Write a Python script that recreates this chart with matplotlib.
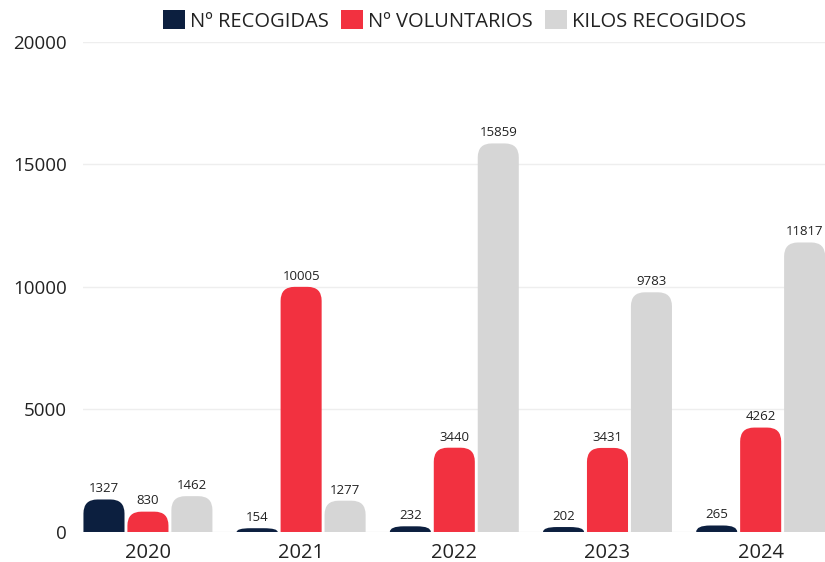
import matplotlib
matplotlib.use('Agg')
import matplotlib.pyplot as plt
from matplotlib.path import Path
from matplotlib.patches import PathPatch, Patch

plt.rcParams['font.family'] = ['Open Sans', 'DejaVu Sans']

years = ['2020', '2021', '2022', '2023', '2024']
recogidas = [1327, 154, 232, 202, 265]
voluntarios = [830, 10005, 3440, 3431, 4262]
kilos = [1462, 1277, 15859, 9783, 11817]

series = [('Nº RECOGIDAS', recogidas, '#0c1f3f'),
          ('Nº VOLUNTARIOS', voluntarios, '#f23140'),
          ('KILOS RECOGIDOS', kilos, '#d6d6d6')]

fig = plt.figure(figsize=(8.25, 5.62), dpi=100)
ax = fig.add_axes([0.1006, 0.0534, 0.8994, 0.8719])
ax.set_xlim(-0.424, 4.42)
ax.set_ylim(0, 20000)

step = 0.287
width = 0.268


def rounded_bar(x0, w, h, r_px=14):
    # radius in data units for both axes (axes are not equal aspect)
    px_x = ax.transData.transform((1, 0))[0] - ax.transData.transform((0, 0))[0]
    px_y = ax.transData.transform((0, 1))[1] - ax.transData.transform((0, 0))[1]
    rx = min(r_px / px_x, w / 2)
    ry = min(r_px / px_y, h)
    x1 = x0 + w
    verts = [(x0, 0), (x0, h - ry), (x0, h), (x0 + rx, h),
             (x1 - rx, h), (x1, h), (x1, h - ry), (x1, 0), (x0, 0)]
    codes = [Path.MOVETO, Path.LINETO, Path.CURVE3, Path.CURVE3,
             Path.LINETO, Path.CURVE3, Path.CURVE3, Path.LINETO, Path.CLOSEPOLY]
    return Path(verts, codes)


for j, (name, vals, col) in enumerate(series):
    for i, v in enumerate(vals):
        xc = i + (j - 1) * step
        p = PathPatch(rounded_bar(xc - width / 2, width, v), facecolor=col,
                      edgecolor='none', zorder=3)
        ax.add_patch(p)
        ax.annotate(str(v), (xc, v), xytext=(0, 3), textcoords='offset points',
                    ha='center', va='bottom', fontsize=9.5, color='#222222')

ax.set_yticks([0, 5000, 10000, 15000, 20000])
ax.set_xticks(range(len(years)))
ax.set_xticklabels(years, fontsize=14.5, color='#222222')
ax.tick_params(axis='y', length=0, pad=11.5, labelsize=13.5, labelcolor='#222222')
ax.tick_params(axis='x', length=0, pad=8)
ax.grid(axis='y', color='#eeeeee', linewidth=1, zorder=0)
for s in ax.spines.values():
    s.set_visible(False)

handles = [Patch(facecolor=c, edgecolor='none', label=n) for n, _, c in series]
fig.legend(handles=handles, loc='center', bbox_to_anchor=(0.551, 0.963), ncol=3,
           frameon=False, fontsize=14.5, handlelength=1.1, handleheight=1.1,
           handletextpad=0.25, columnspacing=0.6, labelcolor='#222222')

fig.savefig('out.png', dpi=100)
